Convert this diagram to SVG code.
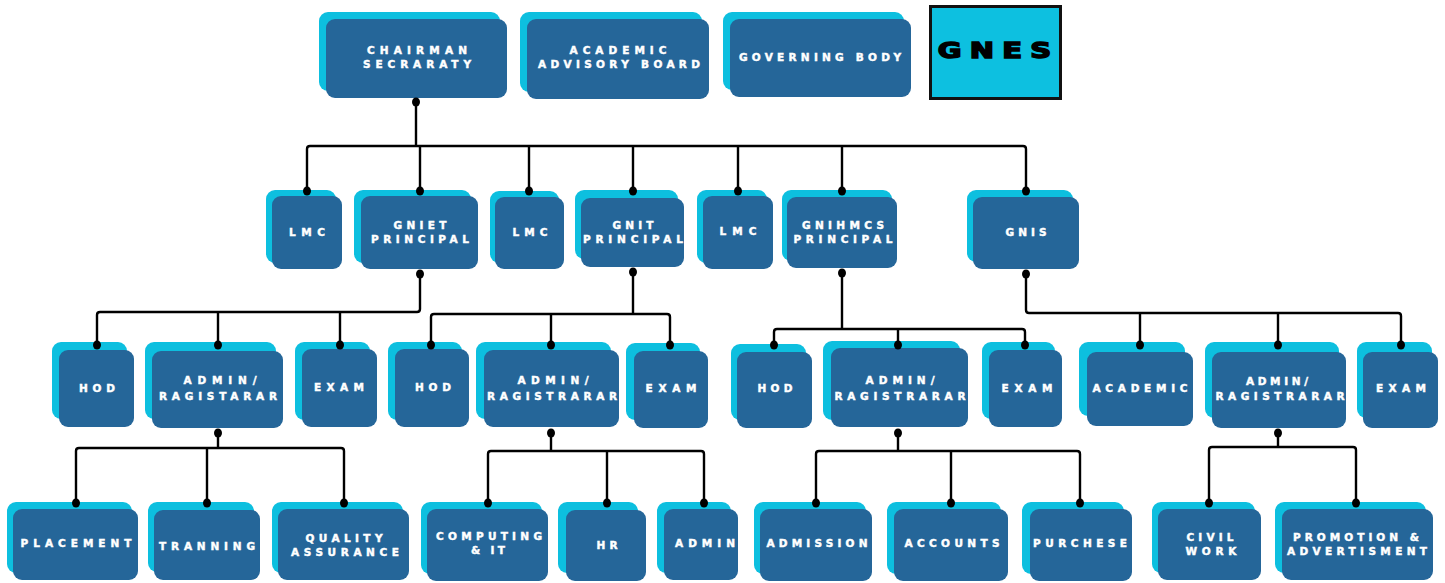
<svg xmlns="http://www.w3.org/2000/svg" width="1445" height="583" viewBox="0 0 1445 583">
<style>
.c{fill:#0dbfdf}
.b{fill:#256699}
.t{font-family:"DejaVu Sans","Liberation Sans",sans-serif;font-weight:bold;font-size:10.5px;fill:#ffffff;stroke:#ffffff;stroke-width:0.45;text-anchor:middle}
.ln{fill:none;stroke:#000;stroke-width:2.4;stroke-linejoin:round}
.d{fill:#000}
</style>
<rect width="1445" height="583" fill="#ffffff"/>
<g id="chairman"><rect class="c" x="319" y="12" width="181" height="79" rx="9"/><rect class="b" x="326" y="19" width="181" height="79" rx="9"/><text class="t" x="417" y="54" textLength="100" lengthAdjust="spacing">CHAIRMAN</text><text class="t" x="417" y="68" textLength="108" lengthAdjust="spacing">SECRARATY</text></g>
<g id="academic-board"><rect class="c" x="520" y="12" width="182" height="80" rx="9"/><rect class="b" x="527" y="19" width="182" height="80" rx="9"/><text class="t" x="618" y="54" textLength="97" lengthAdjust="spacing">ACADEMIC</text><text class="t" x="619" y="68" textLength="162" lengthAdjust="spacing">ADVISORY BOARD</text></g>
<g id="governing-body"><rect class="c" x="723" y="12" width="181" height="78" rx="9"/><rect class="b" x="730" y="19" width="181" height="78" rx="9"/><text class="t" x="820" y="61" textLength="162" lengthAdjust="spacing">GOVERNING BODY</text></g>
<g id="gnes"><rect x="930.5" y="6.5" width="130" height="92" fill="#0dc0e0" stroke="#111" stroke-width="3"/><text transform="scale(1.35 1)" x="736.7" y="58.5" font-family="DejaVu Sans,sans-serif" font-weight="bold" font-size="21.5" fill="#000" stroke="#000" stroke-width="1.5" text-anchor="middle" textLength="84" lengthAdjust="spacing">GNES</text></g>

<g id="lmc1"><rect class="c" x="266" y="190" width="70" height="73" rx="9"/><rect class="b" x="272" y="196" width="70" height="73" rx="9"/><text class="t" x="307" y="236" textLength="36" lengthAdjust="spacing">LMC</text></g>
<g id="gniet"><rect class="c" x="354" y="190" width="117" height="73" rx="9"/><rect class="b" x="361" y="196" width="117" height="73" rx="9"/><text class="t" x="420" y="229" textLength="53" lengthAdjust="spacing">GNIET</text><text class="t" x="420" y="243" textLength="98" lengthAdjust="spacing">PRINCIPAL</text></g>
<g id="lmc2"><rect class="c" x="490" y="191" width="69" height="72" rx="9"/><rect class="b" x="495" y="197" width="69" height="72" rx="9"/><text class="t" x="530" y="236" textLength="35" lengthAdjust="spacing">LMC</text></g>
<g id="gnit"><rect class="c" x="575" y="190" width="103" height="69" rx="9"/><rect class="b" x="581" y="198" width="103" height="69" rx="9"/><text class="t" x="633" y="229" textLength="41" lengthAdjust="spacing">GNIT</text><text class="t" x="633" y="243" textLength="100" lengthAdjust="spacing">PRINCIPAL</text></g>
<g id="lmc3"><rect class="c" x="697" y="190" width="70" height="73" rx="9"/><rect class="b" x="703" y="196" width="70" height="73" rx="9"/><text class="t" x="738" y="235" textLength="37" lengthAdjust="spacing">LMC</text></g>
<g id="gnihmcs"><rect class="c" x="782" y="190" width="110" height="71" rx="9"/><rect class="b" x="787" y="197" width="110" height="71" rx="9"/><text class="t" x="843" y="229" textLength="82" lengthAdjust="spacing">GNIHMCS</text><text class="t" x="843" y="243" textLength="99" lengthAdjust="spacing">PRINCIPAL</text></g>
<g id="gnis"><rect class="c" x="967" y="190" width="106" height="72" rx="9"/><rect class="b" x="973" y="197" width="106" height="72" rx="9"/><text class="t" x="1026" y="236" textLength="41" lengthAdjust="spacing">GNIS</text></g>

<g id="hod1"><rect class="c" x="52" y="342" width="75" height="77" rx="9"/><rect class="b" x="59" y="350" width="75" height="77" rx="9"/><text class="t" x="97" y="392" textLength="36" lengthAdjust="spacing">HOD</text></g>
<g id="admin1"><rect class="c" x="145" y="342" width="131" height="77" rx="9"/><rect class="b" x="152" y="351" width="131" height="77" rx="9"/><text class="t" x="220" y="384" textLength="73" lengthAdjust="spacing">ADMIN/</text><text class="t" x="218" y="400" textLength="118" lengthAdjust="spacing">RAGISTARAR</text></g>
<g id="exam1"><rect class="c" x="295" y="342" width="75" height="78" rx="9"/><rect class="b" x="302" y="349" width="75" height="78" rx="9"/><text class="t" x="339" y="391" textLength="50" lengthAdjust="spacing">EXAM</text></g>
<g id="hod2"><rect class="c" x="388" y="342" width="74" height="78" rx="9"/><rect class="b" x="395" y="349" width="74" height="78" rx="9"/><text class="t" x="433" y="391" textLength="36" lengthAdjust="spacing">HOD</text></g>
<g id="admin2"><rect class="c" x="476" y="342" width="135" height="77" rx="9"/><rect class="b" x="484" y="350" width="135" height="77" rx="9"/><text class="t" x="553" y="384" textLength="71" lengthAdjust="spacing">ADMIN/</text><text class="t" x="552" y="400" textLength="130" lengthAdjust="spacing">RAGISTRARAR</text></g>
<g id="exam2"><rect class="c" x="626" y="343" width="74" height="77" rx="9"/><rect class="b" x="634" y="351" width="74" height="77" rx="9"/><text class="t" x="671" y="392" textLength="51" lengthAdjust="spacing">EXAM</text></g>
<g id="hod3"><rect class="c" x="731" y="344" width="75" height="76" rx="9"/><rect class="b" x="737" y="352" width="75" height="76" rx="9"/><text class="t" x="775" y="392" textLength="35" lengthAdjust="spacing">HOD</text></g>
<g id="admin3"><rect class="c" x="823" y="341" width="137" height="79" rx="9"/><rect class="b" x="831" y="348" width="137" height="79" rx="9"/><text class="t" x="900" y="384" textLength="69" lengthAdjust="spacing">ADMIN/</text><text class="t" x="900" y="400" textLength="131" lengthAdjust="spacing">RAGISTRARAR</text></g>
<g id="exam3"><rect class="c" x="982" y="342" width="73" height="77" rx="9"/><rect class="b" x="989" y="350" width="73" height="77" rx="9"/><text class="t" x="1027" y="392" textLength="51" lengthAdjust="spacing">EXAM</text></g>
<g id="academic"><rect class="c" x="1079" y="342" width="106" height="74" rx="9"/><rect class="b" x="1087" y="352" width="106" height="74" rx="9"/><text class="t" x="1140" y="392" textLength="95" lengthAdjust="spacing">ACADEMIC</text></g>
<g id="admin4"><rect class="c" x="1205" y="342" width="134" height="76" rx="9"/><rect class="b" x="1212" y="352" width="134" height="76" rx="9"/><text class="t" x="1277" y="385" textLength="62" lengthAdjust="spacing">ADMIN/</text><text class="t" x="1280" y="400" textLength="129" lengthAdjust="spacing">RAGISTRARAR</text></g>
<g id="exam4"><rect class="c" x="1357" y="342" width="75" height="76" rx="9"/><rect class="b" x="1363" y="352" width="75" height="76" rx="9"/><text class="t" x="1401" y="392" textLength="50" lengthAdjust="spacing">EXAM</text></g>

<g id="placement"><rect class="c" x="7" y="502" width="125" height="71" rx="9"/><rect class="b" x="13" y="509" width="125" height="71" rx="9"/><text class="t" x="76" y="547" textLength="111" lengthAdjust="spacing">PLACEMENT</text></g>
<g id="tranning"><rect class="c" x="148" y="502" width="106" height="70" rx="9"/><rect class="b" x="154" y="510" width="106" height="70" rx="9"/><text class="t" x="207" y="550" textLength="96" lengthAdjust="spacing">TRANNING</text></g>
<g id="quality"><rect class="c" x="272" y="502" width="131" height="71" rx="9"/><rect class="b" x="278" y="509" width="131" height="71" rx="9"/><text class="t" x="344" y="542" textLength="77" lengthAdjust="spacing">QUALITY</text><text class="t" x="345" y="556" textLength="108" lengthAdjust="spacing">ASSURANCE</text></g>
<g id="computing"><rect class="c" x="421" y="502" width="121" height="72" rx="9"/><rect class="b" x="427" y="509" width="121" height="72" rx="9"/><text class="t" x="489" y="540" textLength="106" lengthAdjust="spacing">COMPUTING</text><text class="t" x="488" y="554" textLength="34" lengthAdjust="spacing">&amp; IT</text></g>
<g id="hr"><rect class="c" x="558" y="502" width="80" height="71" rx="9"/><rect class="b" x="566" y="510" width="80" height="71" rx="9"/><text class="t" x="607" y="549" textLength="21" lengthAdjust="spacing">HR</text></g>
<g id="admin"><rect class="c" x="657" y="502" width="74" height="71" rx="9"/><rect class="b" x="664" y="509" width="74" height="71" rx="9"/><text class="t" x="705" y="547" textLength="60" lengthAdjust="spacing">ADMIN</text></g>
<g id="admission"><rect class="c" x="754" y="502" width="112" height="72" rx="9"/><rect class="b" x="760" y="509" width="112" height="72" rx="9"/><text class="t" x="817" y="547" textLength="101" lengthAdjust="spacing">ADMISSION</text></g>
<g id="accounts"><rect class="c" x="887" y="502" width="114" height="72" rx="9"/><rect class="b" x="894" y="509" width="114" height="72" rx="9"/><text class="t" x="952" y="547" textLength="95" lengthAdjust="spacing">ACCOUNTS</text></g>
<g id="purchese"><rect class="c" x="1022" y="502" width="102" height="72" rx="9"/><rect class="b" x="1030" y="509" width="102" height="72" rx="9"/><text class="t" x="1080" y="547" textLength="94" lengthAdjust="spacing">PURCHESE</text></g>
<g id="civil-work"><rect class="c" x="1152" y="502" width="103" height="71" rx="9"/><rect class="b" x="1158" y="509" width="103" height="71" rx="9"/><text class="t" x="1210" y="541" textLength="47" lengthAdjust="spacing">CIVIL</text><text class="t" x="1211" y="555" textLength="51" lengthAdjust="spacing">WORK</text></g>
<g id="promotion"><rect class="c" x="1275" y="502" width="151" height="71" rx="9"/><rect class="b" x="1282" y="509" width="151" height="71" rx="9"/><text class="t" x="1356" y="541" textLength="126" lengthAdjust="spacing">PROMOTION &amp;</text><text class="t" x="1357" y="555" textLength="140" lengthAdjust="spacing">ADVERTISMENT</text></g>

<g id="connectors">
<path class="ln" d="M416 102V146M307 191V149Q307 146 310 146H1023Q1026 146 1026 149V191M420 146V191M529 146V191M633 146V191M738 146V191M842 146V191"/>
<path class="ln" d="M420 274V309Q420 312 417 312H100Q97 312 97 315V345M218 312V345M340 312V345"/>
<path class="ln" d="M633 272V314M431 345V317Q431 314 434 314H667Q670 314 670 317V345M551 314V345"/>
<path class="ln" d="M842 273V329M774 345V332Q774 329 777 329H1022Q1025 329 1025 332V345M898 329V345"/>
<path class="ln" d="M1026 274V310Q1026 313 1029 313H1398Q1401 313 1401 316V345M1140 313V345M1278 313V345"/>
<path class="ln" d="M218 433V448M76 503V451Q76 448 79 448H341Q344 448 344 451V503M207 448V503"/>
<path class="ln" d="M551 433V451M488 503V454Q488 451 491 451H701Q704 451 704 454V503M607 451V503"/>
<path class="ln" d="M898 433V451M816 503V454Q816 451 819 451H1077Q1080 451 1080 454V503M951 451V503"/>
<path class="ln" d="M1278 433V447M1209 503V450Q1209 447 1212 447H1353Q1356 447 1356 450V503"/>
<g class="d">
<ellipse cx="416" cy="102" rx="4" ry="4.5"/>
<ellipse cx="307" cy="191" rx="4" ry="4.5"/><ellipse cx="420" cy="191" rx="4" ry="4.5"/><ellipse cx="529" cy="191" rx="4" ry="4.5"/><ellipse cx="633" cy="191" rx="4" ry="4.5"/><ellipse cx="738" cy="191" rx="4" ry="4.5"/><ellipse cx="842" cy="191" rx="4" ry="4.5"/><ellipse cx="1026" cy="191" rx="4" ry="4.5"/>
<ellipse cx="420" cy="274" rx="4" ry="4.5"/><ellipse cx="633" cy="272" rx="4" ry="4.5"/><ellipse cx="842" cy="273" rx="4" ry="4.5"/><ellipse cx="1026" cy="274" rx="4" ry="4.5"/>
<ellipse cx="97" cy="345" rx="4" ry="4.5"/><ellipse cx="218" cy="345" rx="4" ry="4.5"/><ellipse cx="340" cy="345" rx="4" ry="4.5"/><ellipse cx="431" cy="345" rx="4" ry="4.5"/><ellipse cx="551" cy="345" rx="4" ry="4.5"/><ellipse cx="670" cy="345" rx="4" ry="4.5"/><ellipse cx="774" cy="345" rx="4" ry="4.5"/><ellipse cx="898" cy="345" rx="4" ry="4.5"/><ellipse cx="1025" cy="345" rx="4" ry="4.5"/><ellipse cx="1140" cy="345" rx="4" ry="4.5"/><ellipse cx="1278" cy="345" rx="4" ry="4.5"/><ellipse cx="1401" cy="345" rx="4" ry="4.5"/>
<ellipse cx="218" cy="433" rx="4" ry="4.5"/><ellipse cx="551" cy="433" rx="4" ry="4.5"/><ellipse cx="898" cy="433" rx="4" ry="4.5"/><ellipse cx="1278" cy="433" rx="4" ry="4.5"/>
<ellipse cx="76" cy="503" rx="4" ry="4.5"/><ellipse cx="207" cy="503" rx="4" ry="4.5"/><ellipse cx="344" cy="503" rx="4" ry="4.5"/><ellipse cx="488" cy="503" rx="4" ry="4.5"/><ellipse cx="607" cy="503" rx="4" ry="4.5"/><ellipse cx="704" cy="503" rx="4" ry="4.5"/><ellipse cx="816" cy="503" rx="4" ry="4.5"/><ellipse cx="951" cy="503" rx="4" ry="4.5"/><ellipse cx="1080" cy="503" rx="4" ry="4.5"/><ellipse cx="1209" cy="503" rx="4" ry="4.5"/><ellipse cx="1356" cy="503" rx="4" ry="4.5"/>
</g>
</g>
</svg>
